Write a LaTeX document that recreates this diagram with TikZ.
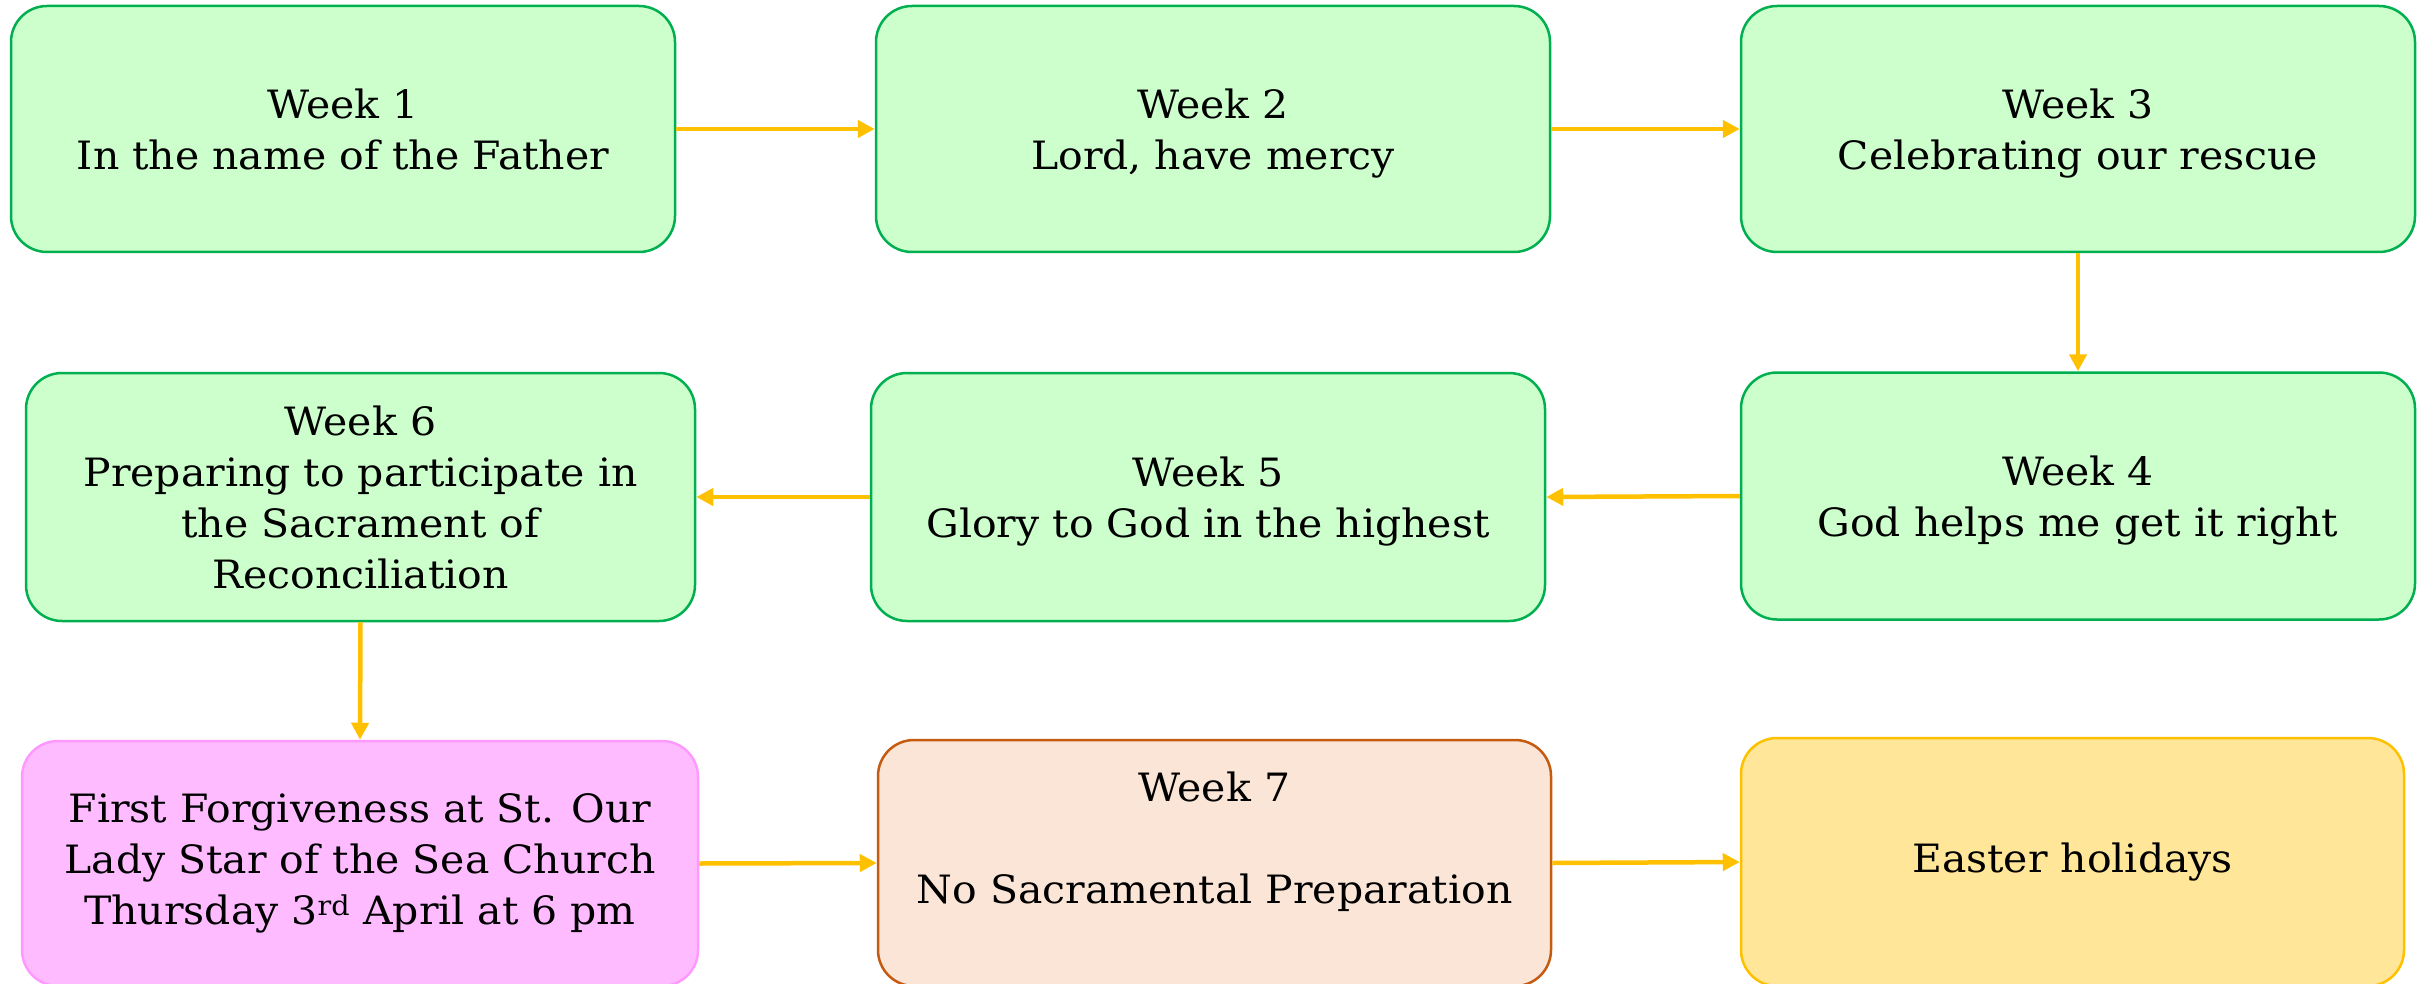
\documentclass[tikz,border=0pt]{standalone}
\usepackage{fontspec}
\setmainfont[FakeStretch=1.05]{DejaVu Serif}
\usetikzlibrary{arrows.meta}
\definecolor{gfill}{HTML}{CCFFCC}
\definecolor{gline}{HTML}{00B050}
\definecolor{pfill}{HTML}{FFBBFF}
\definecolor{pline}{HTML}{FF99FF}
\definecolor{ofill}{HTML}{FBE5D6}
\definecolor{oline}{HTML}{C55A11}
\definecolor{yfill}{HTML}{FFE699}
\definecolor{yline}{HTML}{FFC000}
\definecolor{arr}{HTML}{FFC000}
\newcommand\nodepth[1]{\raisebox{0pt}[\height][0pt]{#1}}
\tikzset{
  txt/.style={font=\fontsize{39}{51}\selectfont},
  box/.style={draw, line width=2.5pt, rounded corners=36pt, align=center,
    inner sep=0pt, txt},
  gbox/.style={box, draw=gline, fill=gfill},
  conn/.style={draw=arr, line width=4.5pt, -{Triangle[length=17pt,width=17pt]}}
}
\begin{document}
\begin{tikzpicture}[x=1pt,y=-1pt]
\useasboundingbox (0,0) rectangle (2427,984);
\node[gbox, minimum width=664pt, minimum height=246pt] (w1) at (343,129) {Week 1\\In the name of the Father};
\node[gbox, minimum width=674pt, minimum height=246pt] (w2) at (1213,129) {Week 2\\\nodepth{Lord, have mercy}};
\node[gbox, minimum width=674pt, minimum height=246pt] (w3) at (2078,129) {Week 3\\\nodepth{Celebrating our rescue}};
\node[gbox, minimum width=674pt, minimum height=247pt] (w4) at (2078,496) {Week 4\\\nodepth{God helps me get it right}};
\node[gbox, minimum width=674pt, minimum height=248pt] (w5) at (1208,497) {Week 5\\\nodepth{Glory to God in the highest}};
\node[gbox, minimum width=669pt, minimum height=248pt] (w6) at (360.5,497) {Week 6\\Preparing to participate in\\the Sacrament of\\Reconciliation};
\node[box, draw=pline, fill=pfill, minimum width=676pt, minimum height=245pt] (ff) at (360,863.5) {First Forgiveness at St. Our\\Lady Star of the Sea Church\\Thursday 3\textsuperscript{rd} April at 6 pm};
\node[box, draw=oline, fill=ofill, minimum width=673pt, minimum height=246pt,
  label={[align=center, txt, yshift=21pt]center:{Week 7\\[51pt]No Sacramental Preparation}}] (w7) at (1214.5,863) {};
\node[box, draw=yline, fill=yfill, minimum width=663pt, minimum height=248pt] (eh) at (2072.5,862) {Easter holidays};
\draw[conn] (w1.east) -- (w2.west);
\draw[conn] (w2.east) -- (w3.west);
\draw[conn] (w3.south) -- (w4.north);
\draw[conn] (w4.west) -- (w5.east);
\draw[conn] (w5.west) -- (w6.east);
\draw[conn] (w6.south) -- (ff.north);
\draw[conn] (ff.east) -- (w7.west);
\draw[conn] (w7.east) -- (eh.west);
\end{tikzpicture}
\end{document}
